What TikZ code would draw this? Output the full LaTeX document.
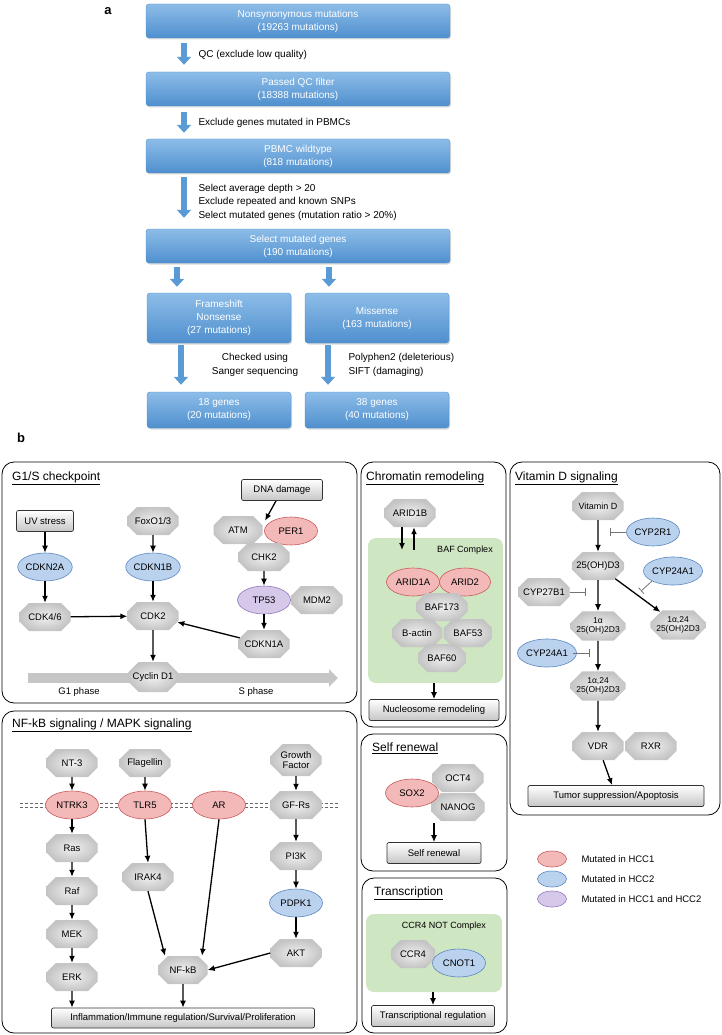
\documentclass[tikz,border=0pt]{standalone}
\usepackage{fontspec}
\setmainfont{Liberation Sans}
\usetikzlibrary{positioning,arrows.meta,shapes.geometric,shapes.misc,shadows,calc}

\definecolor{flowtop}{HTML}{8DBDE8}
\definecolor{flowbot}{HTML}{4F8FCE}
\definecolor{flowblue}{HTML}{5B9BD5}
\definecolor{hcconefill}{HTML}{F3B9B9}
\definecolor{hcconeline}{HTML}{C85A5A}
\definecolor{hcctwofill}{HTML}{BBD2EE}
\definecolor{hcctwoline}{HTML}{5B86C0}
\definecolor{hccbothfill}{HTML}{D5C8E8}
\definecolor{hccbothline}{HTML}{9378BC}
\definecolor{cplx}{HTML}{CFE6C2}

\tikzset{
	flow/.style={rectangle, rounded corners=3pt, top color=flowtop, bottom color=flowbot, draw=flowbot, text=white, align=center, font=\fontsize{10}{13}\selectfont, drop shadow={opacity=0.3, shadow xshift=1pt, shadow yshift=-1.5pt}},
	flowwide/.style={flow, minimum width=304pt, minimum height=34pt},
	flowhalf/.style={flow, minimum width=144pt},
	flowarrow/.style={draw=flowblue, line width=6pt, -{Triangle[width=14pt,length=8pt]}},
	flownote/.style={font=\fontsize{10}{13.5}\selectfont, align=left},
	gene/.style={chamfered rectangle, chamfered rectangle sep=6pt, inner sep=0pt, minimum width=51pt, minimum height=28pt, inner color=gray!12, outer color=gray!46, align=center, font=\fontsize{9.5}{10}\selectfont},
	twoline/.style={font=\fontsize{8.5}{9.5}\selectfont},
	mut/.style={ellipse, minimum width=53pt, minimum height=28pt, inner sep=0pt, line width=0.6pt, font=\fontsize{9.5}{10}\selectfont},
	hccA/.style={mut, fill=hcconefill, draw=hcconeline},
	hccB/.style={mut, fill=hcctwofill, draw=hcctwoline},
	hccAB/.style={mut, fill=hccbothfill, draw=hccbothline},
	legend/.style={minimum width=29pt, minimum height=16pt},
	cue/.style={rectangle, rounded corners=2pt, draw=black!80, line width=0.7pt, top color=white, bottom color=gray!45, minimum height=21pt, inner xsep=4pt, font=\fontsize{9.5}{10}\selectfont},
	panel/.style={draw, rounded corners=12pt, line width=0.8pt},
	heading/.style={anchor=west, inner sep=0pt, font=\fontsize{12}{14}\selectfont},
	cplxlbl/.style={font=\fontsize{9}{10}\selectfont},
	leglbl/.style={anchor=west, font=\fontsize{9.5}{10}\selectfont},
	phasebar/.style={draw=gray!45, line width=10pt, -{Triangle[width=17pt,length=9pt]}},
	phaselbl/.style={font=\fontsize{9.5}{10}\selectfont},
	membrane/.style={draw=black!60, line width=0.6pt, dash pattern=on 3pt off 2pt},
	arr/.style={-{Latex[length=7pt,width=6pt]}, line width=1.3pt},
	inhib/.style={-{Bar[width=8pt]}, draw=black!55, line width=0.8pt},
	complex/.style={fill=cplx, rounded corners=8pt, inner sep=0pt},
}

\begin{document}
\begin{tikzpicture}[x=1pt,y=-1pt,node distance=43pt,on grid]
	\useasboundingbox (0,0) rectangle (722,1035);

	\node[font=\fontsize{13}{13}\selectfont\bfseries] (lbla) at (108,11) {a};
	\node[flowwide] (b1) at (298,21) {Nonsynonymous mutations\\(19263 mutations)};
	\node[flowwide] (b2) at (298,89) {Passed QC filter\\(18388 mutations)};
	\node[flowwide] (b3) at (298,156) {PBMC wildtype\\(818 mutations)};
	\node[flowwide] (b4) at (298,246) {Select mutated genes\\(190 mutations)};
	\node[flowhalf, minimum height=50pt] (b5a) at (219,318) {Frameshift\\Nonsense\\(27 mutations)};
	\node[flowhalf, minimum height=50pt] (b5b) at (377,318) {Missense\\(163 mutations)};
	\node[flowhalf, minimum height=36pt] (b6a) at (219,410) {18 genes\\(20 mutations)};
	\node[flowhalf, minimum height=36pt] (b6b) at (377,410) {38 genes\\(40 mutations)};

	\draw[flowarrow] ([xshift=-114pt,yshift=-5pt]b1.south) -- ([xshift=-114pt,yshift=7pt]b2.north);
	\draw[flowarrow] ([xshift=-114pt,yshift=-6pt]b2.south) -- ([xshift=-114pt,yshift=6pt]b3.north);
	\draw[flowarrow] ([xshift=-114pt,yshift=-4pt]b3.south) -- ([xshift=-114pt,yshift=11pt]b4.north);
	\draw[flowarrow] ([xshift=-121pt,yshift=-4pt]b4.south) -- ([xshift=-42pt,yshift=6pt]b5a.north);
	\draw[flowarrow] ([xshift=31pt,yshift=-4pt]b4.south) -- ([xshift=-48pt,yshift=6pt]b5b.north);
	\draw[flowarrow] ([xshift=-38pt,yshift=-2pt]b5a.south) -- ([xshift=-38pt,yshift=7pt]b6a.north);
	\draw[flowarrow] ([xshift=-49pt,yshift=-2pt]b5b.south) -- ([xshift=-49pt,yshift=7pt]b6b.north);

	\node[flownote, anchor=west] (qc) at (195,55) {QC (exclude low quality)};
	\node[flownote, anchor=west] (pbmc) at (195,123) {Exclude genes mutated in PBMCs};
	\node[flownote, anchor=west] (sel) at (195,202) {Select average depth > 20\\Exclude repeated and known SNPs\\Select mutated genes (mutation ratio > 20\%)};
	\node[flownote, align=center] (sanger) at (255,365) {Checked using\\Sanger sequencing};
	\node[flownote, anchor=west] (poly) at (345,365) {Polyphen2 (deleterious)\\SIFT (damaging)};

	\node[font=\fontsize{13}{13}\selectfont\bfseries] (lblb) at (21,438) {b};

	\draw[panel] (2,462) rectangle (357,703);
	\draw[panel] (2,711) rectangle (357,1033);
	\draw[panel] (361,462) rectangle (506,727);
	\draw[panel] (361,734) rectangle (507,871);
	\draw[panel] (362,878) rectangle (507,1033);
	\draw[panel] (510,462) rectangle (720,815);

	\node[heading] (tg1s) at (12,478) {\underline{G1/S checkpoint}};
	\node[cue, minimum width=81pt] (dna) at (282,490) {DNA damage};
	\node[cue, minimum width=57pt] (uv) at (45,521) {UV stress};
	\node[gene] (foxo) at (153,521) {FoxO1/3};
	\node[gene, minimum width=49pt] (atm) at (238,530) {ATM};
	\node[hccA] (per1) at (291,531) {PER1};
	\node[gene] (chk2) at (264,557) {CHK2};
	\node[hccAB] (tp53) at (264,600) {TP53};
	\node[gene] (mdm2) at (317,600) {MDM2};
	\node[gene] (cdkn1a) at (264,644) {CDKN1A};
	\node[hccB] (cdkn2a) at (45,567) {CDKN2A};
	\node[hccB] (cdkn1b) at (153,567) {CDKN1B};
	\node[gene] (cdk46) at (45,617) {CDK4/6};
	\node[gene] (cdk2) at (153,616) {CDK2};
	\coordinate (g1start) at (28,678);
	\coordinate (send) at (338,678);
	\draw[phasebar] (g1start) -- (send);
	\node[gene, minimum width=49pt, minimum height=30pt] (cycd1) at (153,677) {Cyclin D1};
	\node[phaselbl] (g1) at (79,692) {G1 phase};
	\node[phaselbl] (sp) at (256,692) {S phase};
	\coordinate (atmper) at ($(atm.north east)!0.5!(per1.north west)$);

	\path[arr] (uv) edge (cdkn2a)
		(foxo) edge (cdkn1b)
		(cdkn2a) edge (cdk46)
		(cdkn1b) edge (cdk2)
		(cdk46) edge (cdk2)
		(cdkn1a) edge (cdk2)
		(cdk2) edge (cycd1)
		(chk2) edge (tp53)
		(tp53) edge (cdkn1a)
		(dna) edge (atmper);

	\node[heading] (tchr) at (366,478) {\underline{Chromatin remodeling}};
	\node[gene] (arid1b) at (410,513) {ARID1B};
	\node[complex, minimum width=135pt, minimum height=145pt] (baf) at (435.5,610.5) {};
	\node[cplxlbl] (baflbl) at (465,550) {BAF Complex};
	\node[hccA] (arid1a) at (413,582) {ARID1A};
	\node[hccA, minimum width=51pt] (arid2) at (465,582) {ARID2};
	\node[gene] (baf173) at (442,607) {BAF173};
	\node[gene, minimum width=50pt] (bactin) at (417,633) {B-actin};
	\node[gene, minimum width=49pt] (baf53) at (468,633) {BAF53};
	\node[gene, minimum width=48pt] (baf60) at (442,658) {BAF60};
	\node[cue, minimum width=130pt] (nucl) at (434,710) {Nucleosome remodeling};
	\coordinate (bafin) at (408,550);
	\draw[arr] ([xshift=-8pt]arid1b.south) -- ([xshift=-6pt]bafin);
	\draw[arr] ([xshift=6pt]bafin) -- ([xshift=4pt]arid1b.south);
	\draw[arr] (baf.south -| nucl) -- (nucl);

	\node[heading] (tsr) at (372,748) {\underline{Self renewal}};
	\node[gene] (oct4) at (458,778) {OCT4};
	\node[gene, minimum width=53pt] (nanog) at (458,807) {NANOG};
	\node[hccA] (sox2) at (412,793) {SOX2};
	\node[cue, minimum width=94pt] (srbox) at (434,853) {Self renewal};
	\coordinate (srtop) at (434,823);
	\draw[arr] (srtop) -- (srbox);

	\node[heading] (ttr) at (374,893) {\underline{Transcription}};
	\node[complex, minimum width=136pt, minimum height=78pt] (ccr) at (434,953) {};
	\node[cplxlbl] (ccrlbl) at (444,926) {CCR4 NOT Complex};
	\node[gene, minimum width=44pt] (ccr4) at (413,954) {CCR4};
	\node[hccB] (cnot1) at (459,963) {CNOT1};
	\node[cue, minimum width=123pt] (treg) at (433,1016) {Transcriptional regulation};
	\draw[arr] (ccr.south -| treg) -- (treg);

	\node[heading] (tvd) at (515,478) {\underline{Vitamin D signaling}};
	\node[gene, font=\fontsize{9}{10}\selectfont] (vitd) at (598,506) {Vitamin D};
	\node[hccB] (cyp2r1) at (653,532) {CYP2R1};
	\node[gene] (oh25) at (598,566) {25(OH)D3};
	\node[hccB] (cyp24a) at (673,571) {CYP24A1};
	\node[gene] (cyp27b1) at (544,592) {CYP27B1};
	\node[gene, twoline] (oh2d3) at (598,626) {1α\\25(OH)2D3};
	\node[gene, twoline, minimum width=48pt] (oh24r) at (678,625) {1α,24\\25(OH)2D3};
	\node[hccB] (cyp24b) at (547,653) {CYP24A1};
	\node[gene, twoline] (oh24d) at (598,686) {1α,24\\25(OH)2D3};
	\node[gene] (vdr) at (598,746) {VDR};
	\node[gene] (rxr) at (651,746) {RXR};
	\node[cue, minimum width=176pt] (tumor) at (616,796) {Tumor suppression/Apoptosis};
	\coordinate (bar1) at (610,532);
	\coordinate (bar2) at (641,591);
	\coordinate (bar3) at (586,592);
	\coordinate (bar4) at (590,653);

	\path[arr] (vitd) edge (oh25)
		(oh25) edge (oh2d3)
		(oh25) edge (oh24r)
		(oh2d3) edge (oh24d)
		(oh24d) edge (vdr)
		(vdr) edge (tumor);
	\path[inhib] (cyp2r1.west) edge (bar1)
		(cyp24a.south west) edge (bar2)
		(cyp27b1.east) edge (bar3)
		(cyp24b.east) edge (bar4);

	\node[hccA, legend] (leg1) at (552,859) {};
	\node[leglbl] (leg1t) at (578,859) {Mutated in HCC1};
	\node[hccB, legend] (leg2) at (552,879) {};
	\node[leglbl] (leg2t) at (578,879) {Mutated in HCC2};
	\node[hccAB, legend] (leg3) at (552,899) {};
	\node[leglbl] (leg3t) at (578,899) {Mutated in HCC1 and HCC2};

	\node[heading] (tnf) at (12,725) {\underline{NF-kB signaling / MAPK signaling}};
	\coordinate (mem1) at (20,803);
	\coordinate (mem2) at (338,803);
	\coordinate (mem3) at (20,807);
	\coordinate (mem4) at (338,807);
	\draw[membrane] (mem1) -- (mem2);
	\draw[membrane] (mem3) -- (mem4);
	\node[gene] (nt3) at (72,763) {NT-3};
	\node[gene] (flag) at (145,763) {Flagellin};
	\node[gene, minimum height=32pt] (gf) at (296,760) {Growth\\Factor};
	\node[hccA] (ntrk3) at (72,805) {NTRK3};
	\node[hccA] (tlr5) at (145,805) {TLR5};
	\node[hccA] (ar) at (219,805) {AR};
	\node[gene] (gfrs) at (296,805) {GF-Rs};
	\node[gene] (ras) [below=of ntrk3] {Ras};
	\node[gene] (raf) [below=of ras] {Raf};
	\node[gene] (mek) [below=of raf] {MEK};
	\node[gene] (erk) [below=of mek] {ERK};
	\node[gene] (irak4) at (148,877) {IRAK4};
	\node[gene] (pi3k) at (296,856) {PI3K};
	\node[hccB] (pdpk1) at (296,903) {PDPK1};
	\node[gene] (akt) at (296,953) {AKT};
	\node[gene, minimum width=49pt] (nfkb) at (183,970) {NF-kB};
	\node[cue, minimum width=263pt, minimum height=20pt] (infl) at (183,1018) {Inflammation/Immune regulation/Survival/Proliferation};

	\path[arr] (nt3) edge (ntrk3)
		(flag) edge (tlr5)
		(gf) edge (gfrs)
		(ntrk3) edge (ras)
		(ras) edge (raf)
		(raf) edge (mek)
		(mek) edge (erk)
		(erk) edge (erk |- infl.north)
		(tlr5.south) edge (irak4.north)
		(irak4.south) edge ([xshift=-18pt]nfkb.north)
		(ar.south) edge ([xshift=19pt]nfkb.north)
		(gfrs) edge (pi3k)
		(pi3k) edge (pdpk1)
		(pdpk1) edge (akt)
		(akt.west) edge (nfkb.east)
		(nfkb) edge (infl);
\end{tikzpicture}
\end{document}
